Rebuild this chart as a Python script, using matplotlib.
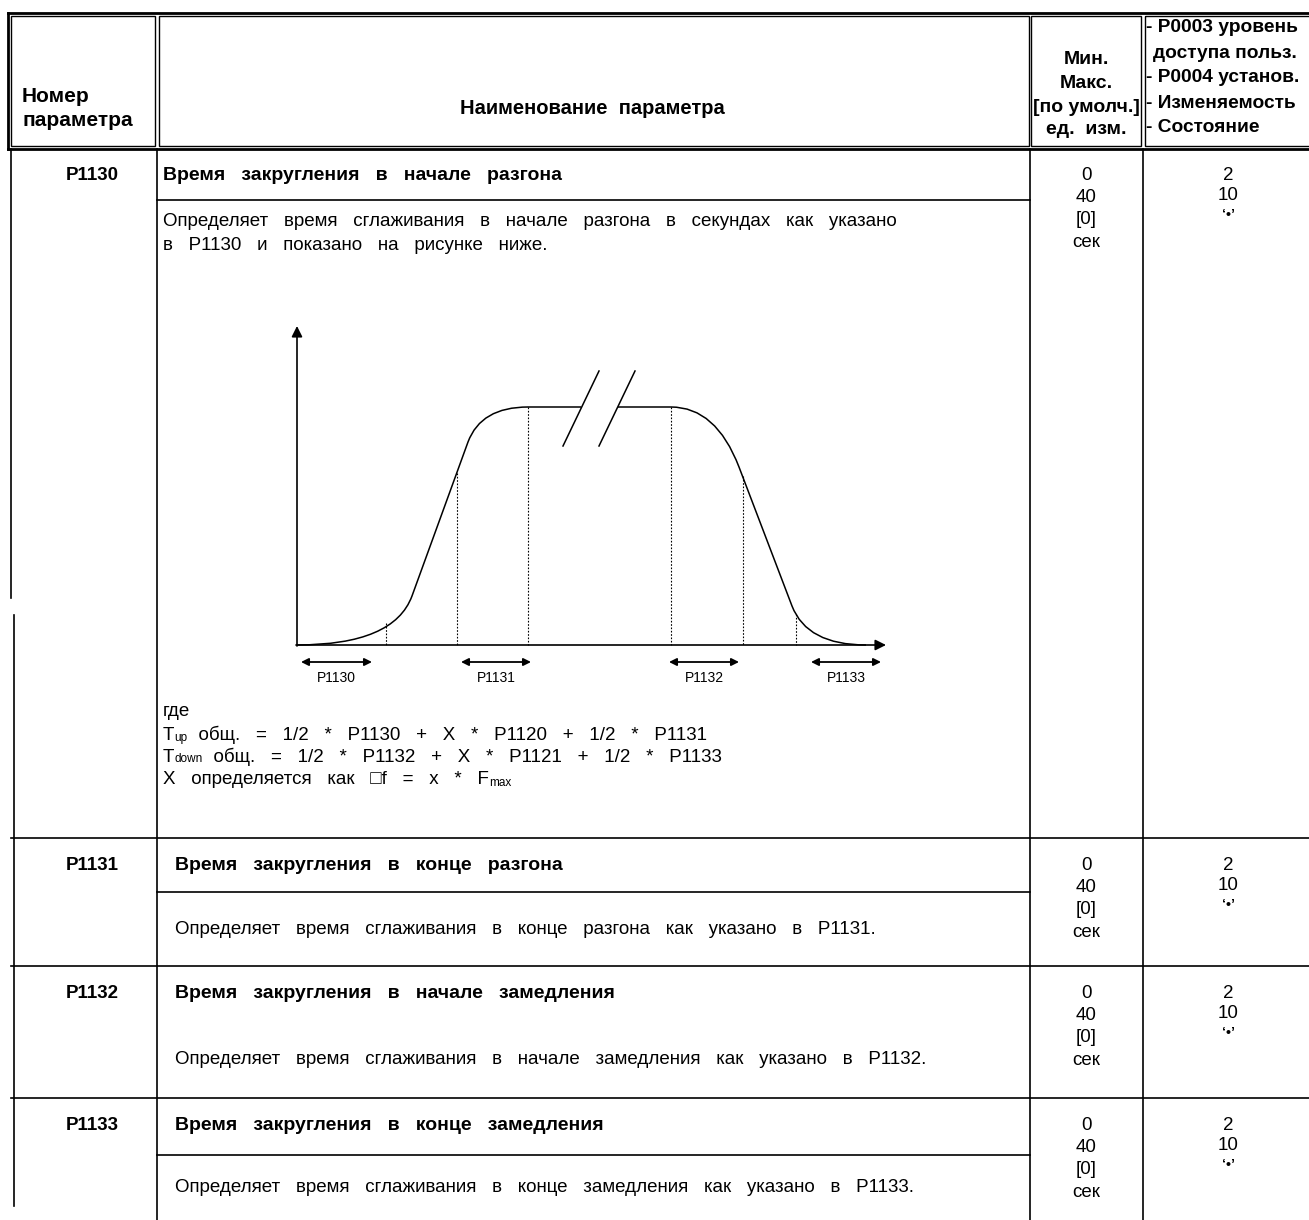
import matplotlib.pyplot as plt
from matplotlib.path import Path
from matplotlib.patches import PathPatch, Rectangle

plt.rcParams['font.family'] = ['Liberation Sans', 'DejaVu Sans']

# данные таблицы
params = ['P1130', 'P1131', 'P1132', 'P1133']
titles = ['Время   закругления   в   начале   разгона',
          'Время   закругления   в   конце   разгона',
          'Время   закругления   в   начале   замедления',
          'Время   закругления   в   конце   замедления']
descs = [['Определяет   время   сглаживания   в   начале   разгона   в   секундах   как   указано',
          'в   P1130   и   показано   на   рисунке   ниже.'],
         ['Определяет   время   сглаживания   в   конце   разгона   как   указано   в   P1131.'],
         ['Определяет   время   сглаживания   в   начале   замедления   как   указано   в   P1132.'],
         ['Определяет   время   сглаживания   в   конце   замедления   как   указано   в   P1133.']]
min_vals = ['0', '0', '0', '0']
max_vals = ['40', '40', '40', '40']
def_vals = ['[0]', '[0]', '[0]', '[0]']
units = ['сек', 'сек', 'сек', 'сек']
access = ['2', '2', '2', '2']
groups = ['10', '10', '10', '10']
change = ['‘•’', '‘•’', '‘•’', '‘•’']

# геометрия строк (пиксели)
row_top = [148, 838, 966, 1098]
title_y = [175, 865, 993, 1125]
sep_y = [200, 892, None, 1155]
desc_y = [[222, 246], [930], [1060], [1188]]

# схема разгона / замедления
curve_up = [(297, 645), (394, 645), (412, 596), (468, 442), (481, 407), (528, 407), (581, 407)]
curve_up_codes = [Path.MOVETO, Path.CURVE3, Path.CURVE3, Path.LINETO, Path.CURVE3, Path.CURVE3, Path.LINETO]
curve_dn = [(618, 407), (671, 407), (716, 407), (739, 467), (792, 606), (807, 645), (866, 645)]
curve_dn_codes = [Path.MOVETO, Path.LINETO, Path.CURVE3, Path.CURVE3, Path.LINETO, Path.CURVE3, Path.CURVE3]
dot_x = [386, 457, 528, 671, 743, 796]
dot_top = [623, 473, 407, 407, 476, 614]
span_labels = ['P1130', 'P1131', 'P1132', 'P1133']
span_x0 = [301, 461, 669, 811]
span_x1 = [372, 531, 739, 881]

fig = plt.figure(figsize=(13.09, 12.2), dpi=100)
ax = fig.add_axes([0, 0, 1, 1])
ax.set_xlim(0, 1309)
ax.set_ylim(1220, 0)
ax.axis('off')

K = 'black'

# шапка таблицы
ax.plot([8, 1309], [13, 13], color=K, lw=2)
ax.plot([8, 1309], [149, 149], color=K, lw=2)
ax.plot([8, 8], [13, 149], color=K, lw=2)
for x0, x1 in [(11, 155), (159, 1029), (1031, 1141), (1145, 1312)]:
    ax.add_patch(Rectangle((x0, 16), x1 - x0, 130, fill=False, ec=K, lw=1))

hb = dict(fontweight='bold', va='center')
ax.text(22, 96, 'Номер', ha='left', fontsize=15, **hb)
ax.text(22, 120, 'параметра', ha='left', fontsize=15, **hb)
ax.text(592, 108, 'Наименование  параметра', ha='center', fontsize=14.5, **hb)
for yy, s in zip([60, 83, 107, 130], ['Мин.', 'Макс.', '[по умолч.]', 'ед.  изм.']):
    ax.text(1086, yy, s, ha='center', fontsize=14, **hb)
for yy, xx, s in zip([28, 53, 78, 103, 128], [1146, 1153, 1146, 1146, 1146],
                     ['- P0003 уровень', 'доступа польз.', '- P0004 установ.',
                      '- Изменяемость', '- Состояние']):
    ax.text(xx, yy, s, ha='left', fontsize=13.8, **hb)

# линии тела таблицы
ax.plot([11, 11], [149, 598], color=K, lw=1.2)
ax.plot([14, 14], [615, 1206], color=K, lw=1.2)
for xx in [157, 1030, 1143]:
    ax.plot([xx, xx], [149, 1220], color=K, lw=1.2)
for yy in row_top[1:]:
    ax.plot([11, 1309], [yy, yy], color=K, lw=1.2)
for yy in sep_y:
    if yy is not None:
        ax.plot([157, 1030], [yy, yy], color=K, lw=1.2)

body = dict(fontsize=13.5, va='center')
for i in range(len(params)):
    ax.text(92, title_y[i], params[i], ha='center', fontsize=13.5, fontweight='bold', va='center')
    ax.text(175 if i else 163, title_y[i], titles[i], ha='left', fontsize=14, fontweight='bold', va='center')
    for yy, s in zip(desc_y[i], descs[i]):
        ax.text(175 if i else 163, yy, s, ha='left', **body)
    y0 = title_y[i]
    for k, s in enumerate([min_vals[i], max_vals[i], def_vals[i], units[i]]):
        ax.text(1086, y0 + k * 22.5, s, ha='center', **body)
    for k, s in enumerate([access[i], groups[i]]):
        ax.text(1228, y0 + k * 21, s, ha='center', **body)
    ax.text(1228, y0 + 40, change[i], ha='center', fontsize=10, fontweight='bold', va='center')

# схема
ax.annotate('', xy=(297, 326), xytext=(297, 646),
            arrowprops=dict(arrowstyle='-|>', lw=1.2, color=K, mutation_scale=16, shrinkA=0, shrinkB=0))
ax.annotate('', xy=(886, 645), xytext=(296, 645),
            arrowprops=dict(arrowstyle='-|>', lw=1.2, color=K, mutation_scale=16, shrinkA=0, shrinkB=0))
ax.add_patch(PathPatch(Path(curve_up, curve_up_codes), fill=False, ec=K, lw=1.1))
ax.add_patch(PathPatch(Path(curve_dn, curve_dn_codes), fill=False, ec=K, lw=1.1))
ax.plot([563, 599], [446, 371], color=K, lw=1.1)
ax.plot([599, 635], [446, 371], color=K, lw=1.1)
for xx, yt in zip(dot_x, dot_top):
    ax.plot([xx, xx], [yt, 645], color=K, lw=0.8, ls=(0, (1.5, 1.5)))
for lab, a, b in zip(span_labels, span_x0, span_x1):
    ax.annotate('', xy=(b, 662), xytext=(a, 662),
                arrowprops=dict(arrowstyle='<|-|>', lw=1.3, color=K, mutation_scale=11, shrinkA=0, shrinkB=0))
    ax.text((a + b) / 2, 678, lab, ha='center', va='center', fontsize=10)

# формулы под схемой
ax.text(163, 712, 'где', ha='left', **body)


def chain(parts, y):
    t = ax.text(163, y, parts[0][0], ha='left', fontsize=parts[0][1], va='center')
    for s, fs in parts[1:]:
        t = ax.annotate(s, xy=(1, 0), xycoords=t, ha='left', va='bottom', fontsize=fs)
    return t


chain([('T', 13.5), ('up', 8.5), ('  общ.   =   1/2   *   P1130   +   X   *   P1120   +   1/2   *   P1131', 13.5)], 735)
chain([('T', 13.5), ('down', 8.5), ('  общ.   =   1/2   *   P1132   +   X   *   P1121   +   1/2   *   P1133', 13.5)], 757)
chain([('X   определяется   как   □f   =   x   *   F', 13.5), ('max', 8.5)], 780)

fig.savefig('out.png', dpi=100)
